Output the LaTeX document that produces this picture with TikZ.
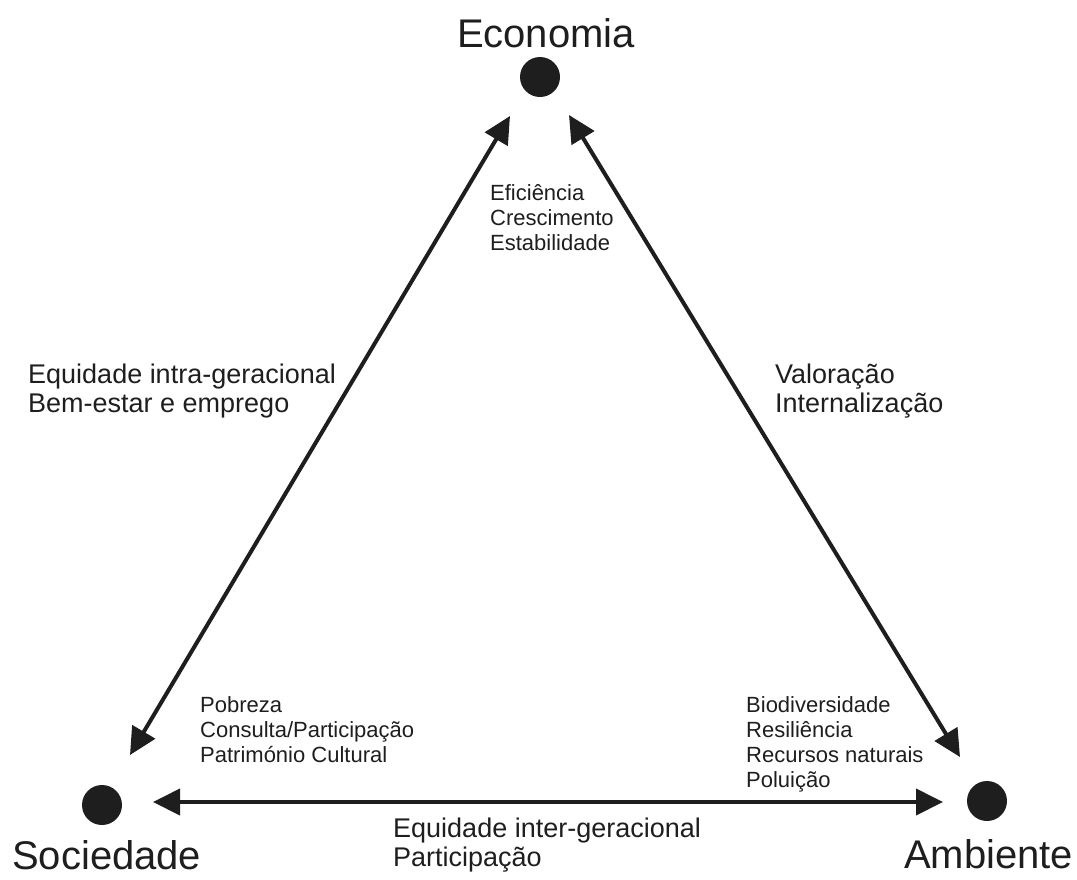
\documentclass[tikz,border=0pt]{standalone}
\usepackage{fontspec}
\setmainfont{Liberation Sans}
\usepackage{tikz}
\usetikzlibrary{arrows.meta}
\pgfdeclarelayer{nodelayer}
\pgfdeclarelayer{edgelayer}
\pgfsetlayers{nodelayer,edgelayer,main}
\definecolor{ink}{RGB}{30,30,30}
\tikzset{
    none/.style = {inner sep=0pt},
    pillardot/.style = {circle, fill=ink, inner sep=0pt, minimum size=40pt},
    pillarlabel/.style = {inner sep=0pt, text=ink, font=\fontsize{40}{44}\selectfont},
    topiclist/.style = {inner sep=0pt, align=left, text=ink, font=\fontsize{22}{25}\selectfont},
    relationlist/.style = {inner sep=0pt, align=left, text=ink, font=\fontsize{27}{28.5}\selectfont},
    bothways/.style = {draw=ink, line width=4pt,
      {Triangle[length=27pt,width=26pt]}-{Triangle[length=27pt,width=26pt]}}
}
\begin{document}
\begin{tikzpicture}[x=1pt, y=-1pt]
  \useasboundingbox (0, 0) rectangle (1077, 879);
  \begin{pgfonlayer}{nodelayer}
    \node [style=pillardot] (0) at (540, 77) {};
    \node [style=pillardot] (1) at (102, 805) {};
    \node [style=pillardot] (2) at (987, 801) {};
    \node [style=pillarlabel, anchor=base] (3) at (546, 47) {Economia};
    \node [style=pillarlabel, anchor=base west] (4) at (12, 869) {Sociedade};
    \node [style=pillarlabel, anchor=base west] (5) at (904, 868) {Ambiente};
    \node [style=none] (6) at (510, 116) {};
    \node [style=none] (7) at (130, 755) {};
    \node [style=none] (8) at (569, 115) {};
    \node [style=none] (9) at (960, 757) {};
    \node [style=none] (10) at (153, 802) {};
    \node [style=none] (11) at (943, 802) {};
    % base of a multi-line node = baseline of its last line
    \node [style=topiclist, anchor=base west] (12) at (490, 250) {Eficiência\\Crescimento\\Estabilidade};
    \node [style=relationlist, anchor=base west] (13) at (28, 412) {Equidade intra-geracional\\Bem-estar e emprego};
    \node [style=relationlist, anchor=base west] (14) at (775, 412) {Valoração\\Internalização};
    \node [style=topiclist, anchor=base west] (15) at (200, 762) {Pobreza\\Consulta/Participação\\Património Cultural};
    \node [style=topiclist, anchor=base west] (16) at (746, 787) {Biodiversidade\\Resiliência\\Recursos naturais\\Poluição};
    \node [style=relationlist, anchor=base west] (17) at (393, 866) {Equidade inter-geracional\\Participação};
  \end{pgfonlayer}
  \begin{pgfonlayer}{edgelayer}
    \draw [style=bothways] (6.center) to (7.center);
    \draw [style=bothways] (8.center) to (9.center);
    \draw [style=bothways] (10.center) to (11.center);
  \end{pgfonlayer}
\end{tikzpicture}
\end{document}
